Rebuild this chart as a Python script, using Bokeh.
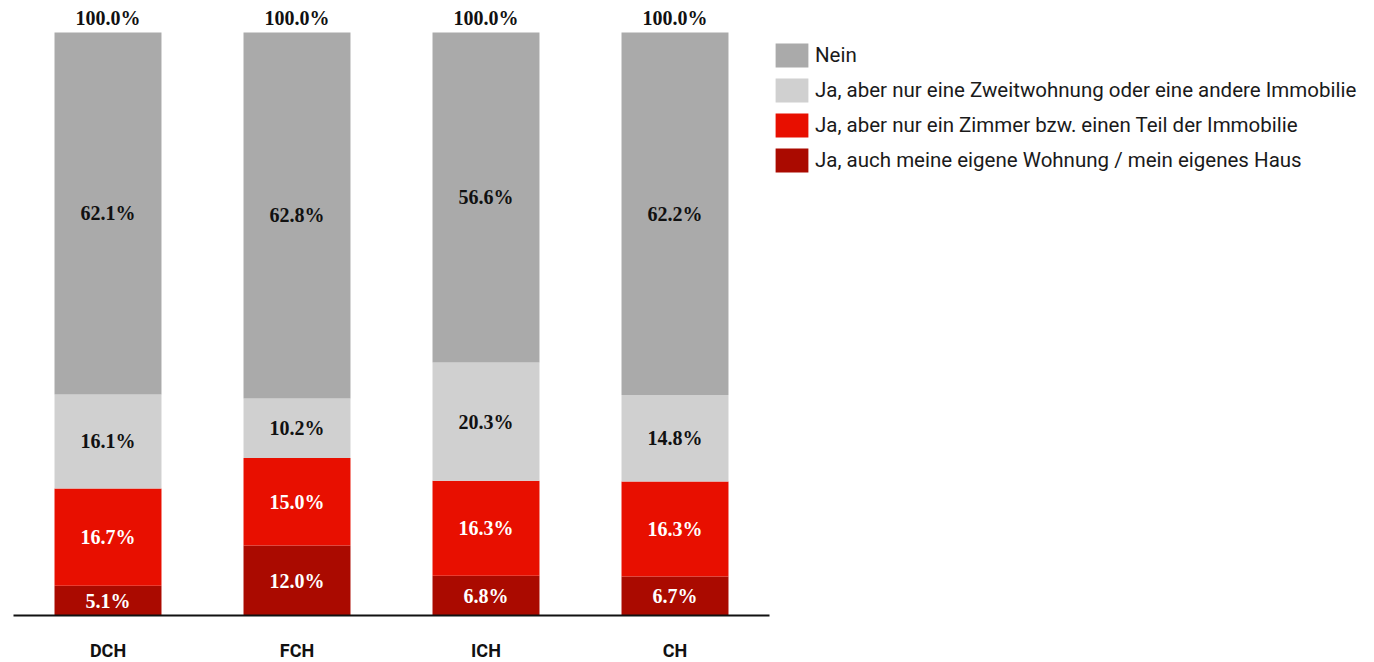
from bokeh.plotting import figure
from bokeh.models import ColumnDataSource, FactorRange, Range1d, Legend, LegendItem
from bokeh.core.properties import value
from bokeh.embed import file_html
from bokeh.resources import INLINE

regions = ["DCH", "FCH", "ICH", "CH"]
eigene = [5.1, 12.0, 6.8, 6.7]
zimmer = [16.7, 15.0, 16.3, 16.3]
zweit = [16.1, 10.2, 20.3, 14.8]
nein = [62.1, 62.8, 56.6, 62.2]
totals = [100.0, 100.0, 100.0, 100.0]

series = ["eigene", "zimmer", "zweit", "nein"]
labels = {
    "nein": "Nein",
    "zweit": "Ja, aber nur eine Zweitwohnung oder eine andere Immobilie",
    "zimmer": "Ja, aber nur ein Zimmer bzw. einen Teil der Immobilie",
    "eigene": "Ja, auch meine eigene Wohnung / mein eigenes Haus",
}
colors = {"eigene": "#AA0A00", "zimmer": "#E80F00", "zweit": "#D0D0D0", "nein": "#AAAAAA"}
text_colors = {"eigene": "white", "zimmer": "white", "zweit": "#111111", "nein": "#111111"}

data = {"region": regions, "eigene": eigene, "zimmer": zimmer, "zweit": zweit, "nein": nein, "total": totals}
src = ColumnDataSource(data)

p = figure(
    x_range=FactorRange(*regions, range_padding=0),
    y_range=Range1d(0, 104.1),
    frame_width=756, frame_height=607,
    output_backend="svg", toolbar_location=None,
    min_border_left=13, min_border_right=0, min_border_top=8, min_border_bottom=0,
)
p.outline_line_color = None
p.xgrid.visible = False
p.ygrid.visible = False
p.yaxis.visible = False

renderers = p.vbar_stack(series, x="region", width=0.566, source=src,
                         color=[colors[s] for s in series], line_color=None)

LABEL_FONT = value("Liberation Serif")
cum = [0.0] * len(regions)
for s in series:
    vals = data[s]
    mids = [c + v / 2 for c, v in zip(cum, vals)]
    cum = [c + v for c, v in zip(cum, vals)]
    lsrc = ColumnDataSource({"region": regions, "y": mids,
                             "txt": [f"{v:.1f}%" for v in vals]})
    p.text(x="region", y="y", text="txt", source=lsrc,
           text_align="center", text_baseline="middle",
           text_font=LABEL_FONT, text_font_size="20px", text_font_style="bold",
           text_color=text_colors[s])

tsrc = ColumnDataSource({"region": regions, "y": totals, "txt": [f"{v:.1f}%" for v in totals]})
p.text(x="region", y="y", text="txt", source=tsrc, text_align="center",
       text_baseline="middle", y_offset=-14,
       text_font=LABEL_FONT, text_font_size="20px", text_font_style="bold",
       text_color="#111111")

ax = p.xaxis[0]
ax.axis_line_color = "#111111"
ax.axis_line_width = 2
ax.major_tick_line_color = None
ax.minor_tick_line_color = None
ax.major_tick_out = 0
ax.major_tick_in = 0
ax.major_label_standoff = 24
ax.major_label_text_font = "Roboto"
ax.major_label_text_font_style = "bold"
ax.major_label_text_font_size = "18px"
ax.major_label_text_color = "#111111"

items = [LegendItem(label=labels[s], renderers=[r]) for s, r in zip(series, renderers)][::-1]
legend = Legend(items=items, location=(2, 440), orientation="vertical",
                glyph_width=41, glyph_height=30, spacing=5, label_standoff=3,
                label_text_font="Roboto", label_text_font_size="20.5px",
                label_text_color="#1a1a1a", label_height=24,
                border_line_color=None, background_fill_alpha=0,
                margin=0, padding=6)
p.add_layout(legend, "right")

open("out.html", "w").write(file_html(p, INLINE))
